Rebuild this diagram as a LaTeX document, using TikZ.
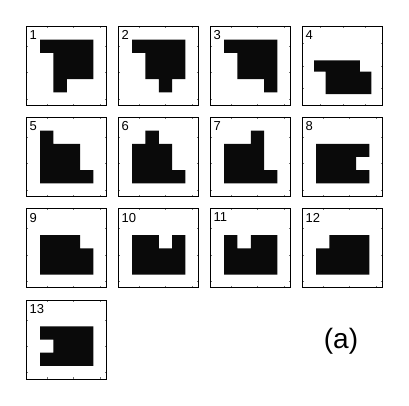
\documentclass[tikz,border=0pt]{standalone}
\usepackage{fontspec}
\setmainfont{Liberation Sans}
\tikzset{
  shapefill/.style={fill=black!96, draw=none},
  frame/.style={draw=black, line width=0.8pt},
  tickmark/.style={draw=black!55, line width=0.4pt},
  numlabel/.style={anchor=north west, inner sep=0pt, font=\fontsize{13}{13}\selectfont},
  caption/.style={inner sep=0pt, font=\fontsize{28}{28}\selectfont},
}
\newcommand{\mypanel}[5]{%
  \begin{scope}[shift={(#1,#2)}, xscale=80/#3, yscale=79/#3]
    \fill[shapefill] #5 -- cycle;
    \foreach \t in {1.5,3.5,5.5}{
      \draw[tickmark] (\t,#3) -- ++(0,-0.12);
      \draw[tickmark] (\t,0) -- ++(0,0.12);
      \draw[tickmark] (0,\t) -- ++(0.12,0);
      \draw[tickmark] (#3,\t) -- ++(-0.12,0);
    }
    \draw[frame] (0,0) rectangle (#3,#3);
  \end{scope}
  \node[numlabel] (l#4) at ({#1+2.6},{#2+4}) {#4};
}
\begin{document}
\begin{tikzpicture}[x=1pt,y=-1pt]
  \useasboundingbox[fill=white] (0,0) rectangle (409,406);
  % row 1
  \mypanel{26.8}{26.5}{6}{1}{(1,1) -- (5,1) -- (5,4) -- (3,4) -- (3,5) -- (2,5) -- (2,2) -- (1,2)}
  \mypanel{118.8}{26.5}{6}{2}{(1,1) -- (5,1) -- (5,4) -- (4,4) -- (4,5) -- (3,5) -- (3,4) -- (2,4) -- (2,2) -- (1,2)}
  \mypanel{210.8}{26.5}{6}{3}{(1,1) -- (5,1) -- (5,5) -- (4,5) -- (4,4) -- (2,4) -- (2,2) -- (1,2)}
  \mypanel{302.8}{26.5}{7}{4}{(1,3) -- (5,3) -- (5,4) -- (6,4) -- (6,6) -- (2,6) -- (2,4) -- (1,4)}
  % row 2
  \mypanel{26.8}{117.5}{6}{5}{(1,1) -- (2,1) -- (2,2) -- (4,2) -- (4,4) -- (5,4) -- (5,5) -- (1,5)}
  \mypanel{118.8}{117.5}{6}{6}{(2,1) -- (3,1) -- (3,2) -- (4,2) -- (4,4) -- (5,4) -- (5,5) -- (1,5) -- (1,2) -- (2,2)}
  \mypanel{210.8}{117.5}{6}{7}{(3,1) -- (4,1) -- (4,4) -- (5,4) -- (5,5) -- (1,5) -- (1,2) -- (3,2)}
  \mypanel{302.8}{117.5}{6}{8}{(1,2) -- (5,2) -- (5,3) -- (4,3) -- (4,4) -- (5,4) -- (5,5) -- (1,5)}
  % row 3
  \mypanel{26.8}{208.8}{6}{9}{(1,2) -- (4,2) -- (4,3) -- (5,3) -- (5,5) -- (1,5)}
  \mypanel{118.8}{208.8}{6}{10}{(1,2) -- (3,2) -- (3,3) -- (4,3) -- (4,2) -- (5,2) -- (5,5) -- (1,5)}
  \mypanel{210.8}{208.8}{6}{11}{(1,2) -- (2,2) -- (2,3) -- (3,3) -- (3,2) -- (5,2) -- (5,5) -- (1,5)}
  \mypanel{302.8}{208.8}{6}{12}{(2,2) -- (5,2) -- (5,5) -- (1,5) -- (1,3) -- (2,3)}
  % row 4
  \mypanel{26.8}{300}{6}{13}{(1,2) -- (5,2) -- (5,5) -- (1,5) -- (1,4) -- (2,4) -- (2,3) -- (1,3)}
  \node[caption] (cap) at (341,341.5) {(a)};
\end{tikzpicture}
\end{document}
